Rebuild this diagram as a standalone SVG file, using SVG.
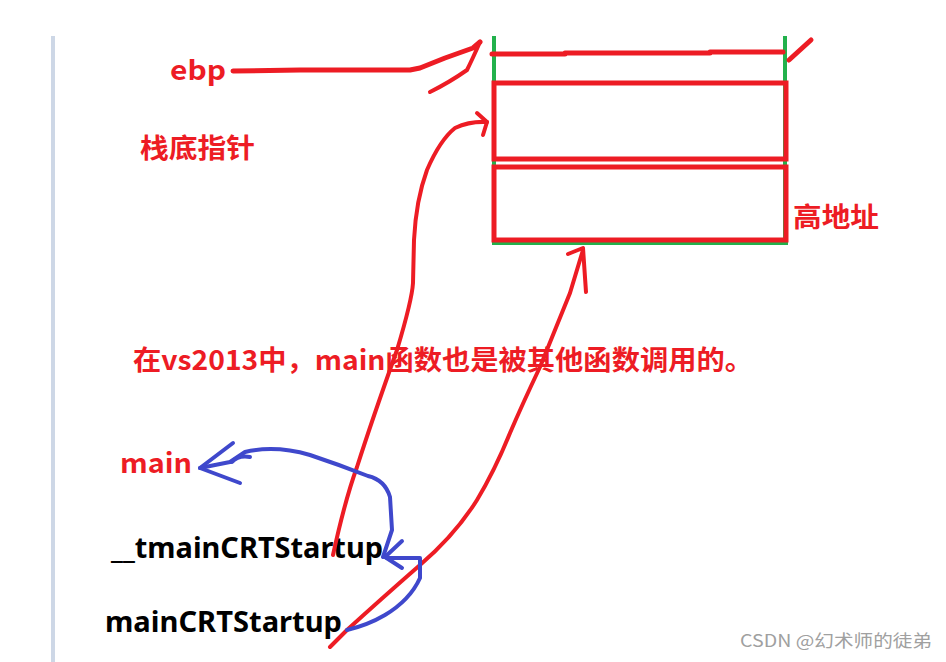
<svg xmlns="http://www.w3.org/2000/svg" width="946" height="662" viewBox="0 0 946 662">
<style>
.red{stroke:#ed1c24;fill:none;stroke-linecap:round;stroke-linejoin:round}
.blue{stroke:#3f48cc;fill:none;stroke-width:4;stroke-linecap:round;stroke-linejoin:round}
.grn{stroke:#22b14c;fill:none;stroke-width:4}
.rt{fill:#ed1c24;font-family:"Noto Sans CJK SC","Noto Sans",sans-serif;font-weight:bold}
.bt{fill:#000;font-family:"Noto Sans","Noto Sans CJK SC",sans-serif;font-weight:bold}
</style>
<rect width="946" height="662" fill="#ffffff"/>
<rect x="51" y="36" width="4" height="626" fill="#cdd7e6"/>
<g id="stack">
<line class="grn" x1="494" y1="36" x2="494" y2="244"/>
<line class="grn" x1="785" y1="36" x2="785" y2="244"/>
<line class="grn" x1="492" y1="243" x2="788" y2="243"/>
<path class="red" stroke-width="5" d="M492,54 L565,54 L565,53 L710,53 L710,52 L783,52"/>
<path class="red" stroke-width="5" d="M789,60 L811,40"/>
<rect x="494" y="83" width="292" height="76" fill="none" stroke="#ed1c24" stroke-width="5"/>
<rect x="494" y="167" width="292" height="73" fill="none" stroke="#ed1c24" stroke-width="5"/>
</g>
<g id="labels">
<text class="rt" x="170" y="80" font-size="27" textLength="56" lengthAdjust="spacingAndGlyphs">ebp</text>
<text class="rt" x="140" y="158" font-size="27" textLength="115" lengthAdjust="spacingAndGlyphs">栈底指针</text>
<text class="rt" x="793" y="227" font-size="27" textLength="86" lengthAdjust="spacingAndGlyphs">高地址</text>
<text class="rt" x="133" y="370" font-size="27" textLength="620" lengthAdjust="spacingAndGlyphs">在vs2013中，main函数也是被其他函数调用的。</text>
<text class="rt" x="120" y="473" font-size="27" textLength="72" lengthAdjust="spacingAndGlyphs">main</text>
<text class="bt" x="111" y="558" font-size="28" textLength="272" lengthAdjust="spacingAndGlyphs">__tmainCRTStartup</text>
<text class="bt" x="105" y="632" font-size="28" textLength="237" lengthAdjust="spacingAndGlyphs">mainCRTStartup</text>
<text x="740" y="647" font-size="17" fill="#a0a0a0" font-family="'Noto Sans CJK SC','Noto Sans',sans-serif" textLength="192" lengthAdjust="spacingAndGlyphs">CSDN @幻术师的徒弟</text>
</g>
<g id="connectors">
<path class="red" stroke-width="5" d="M233,71 L300,70 L365,70 L410,70 L420,68 L445,58 L473,48 L480,42"/>
<path class="red" stroke-width="4" d="M480,42 Q472,60 467,70 Q450,82 430,92"/>
<path class="red" stroke-width="4" d="M333,555 Q345,500 357,467 Q372,420 397,350 Q412,300 413,283 L414,240 Q416,200 427,170 Q440,140 455,128 Q470,121 487,122"/>
<path class="red" stroke-width="4" d="M477,113 L487,122 L483,135"/>
<path class="red" stroke-width="4" d="M330,647 L347,630 Q380,600 420,565 Q455,535 477,500 Q495,470 510,433 Q522,405 540,367 Q555,330 570,293 L583,250"/>
<path class="red" stroke-width="4" d="M568,254 L583,248 L586,292"/>
<path class="blue" d="M383,557 L392,530 L390,497 Q385,480 368,476 Q340,465 310,455 Q275,445 245,452 L230,462 L200,468"/>
<path class="blue" d="M233,443 L200,468 L240,483"/>
<path class="blue" stroke-width="6" d="M232,462 Q238,455 250,457"/>
<path class="blue" d="M402,541 L385,557 L402,568"/>
<path class="blue" d="M387,558 L420,558 L420,578 Q410,600 385,615 Q368,625 347,630"/>
</g>
</svg>
